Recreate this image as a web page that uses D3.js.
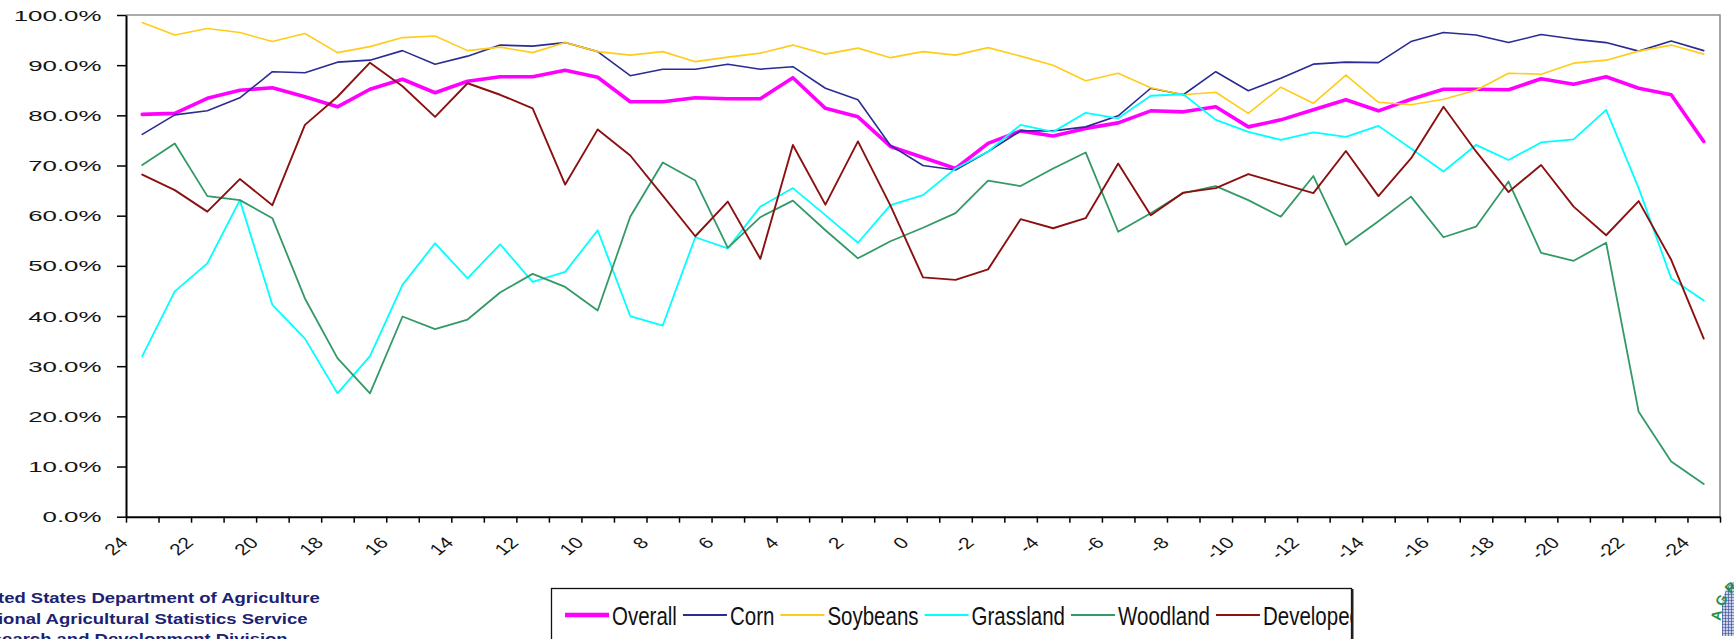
<!DOCTYPE html>
<html>
<head>
<meta charset="utf-8">
<script src="https://cdn.jsdelivr.net/npm/d3@7"></script>
<style>
  html, body { margin: 0; padding: 0; background: #fff; overflow: hidden; }
</style>
</head>
<body>
<svg id="chart" width="1734" height="639"></svg>
<script>
// Category axis: offset values from 24 down to -24
const categories = [24, 23, 22, 21, 20, 19, 18, 17, 16, 15, 14, 13, 12, 11, 10, 9, 8, 7, 6, 5, 4, 3, 2, 1, 0,
  -1, -2, -3, -4, -5, -6, -7, -8, -9, -10, -11, -12, -13, -14, -15, -16, -17, -18, -19, -20, -21, -22, -23, -24];
const labelledCategories = [24, 22, 20, 18, 16, 14, 12, 10, 8, 6, 4, 2, 0,
  -2, -4, -6, -8, -10, -12, -14, -16, -18, -20, -22, -24];
const yTicks = [0, 10, 20, 30, 40, 50, 60, 70, 80, 90, 100];

// Percentages per category (%)
const overall = [80.2, 80.4, 83.4, 85.0, 85.5, 83.7, 81.7, 85.2, 87.2, 84.5,
  86.8, 87.7, 87.7, 89.0, 87.6, 82.7, 82.7, 83.5, 83.3, 83.3,
  87.5, 81.4, 79.7, 73.8, 71.6, 69.4, 74.4, 76.9, 75.9, 77.4,
  78.5, 80.9, 80.7, 81.7, 77.7, 79.1, 81.1, 83.1, 80.9, 83.2,
  85.2, 85.2, 85.1, 87.3, 86.2, 87.7, 85.4, 84.1, 74.8];
const corn = [76.2, 80.1, 80.9, 83.5, 88.7, 88.5, 90.6, 91.0, 92.9, 90.2,
  91.8, 94.0, 93.8, 94.5, 92.7, 87.9, 89.2, 89.2, 90.2, 89.2,
  89.7, 85.4, 83.1, 74.0, 70.0, 69.1, 72.8, 76.9, 76.9, 77.7,
  79.9, 85.4, 84.1, 88.7, 84.9, 87.4, 90.2, 90.6, 90.5, 94.7,
  96.5, 96.0, 94.5, 96.1, 95.2, 94.5, 92.8, 94.8, 92.9];
const soybeans = [98.5, 96.0, 97.3, 96.5, 94.7, 96.3, 92.5, 93.7, 95.5, 95.8,
  92.9, 93.6, 92.5, 94.5, 92.7, 92.0, 92.7, 90.7, 91.6, 92.4,
  94.0, 92.2, 93.4, 91.5, 92.7, 92.0, 93.5, 91.8, 90.0, 86.9,
  88.4, 85.5, 84.1, 84.6, 80.4, 85.6, 82.4, 88.0, 82.6, 82.1,
  83.2, 85.0, 88.4, 88.2, 90.4, 91.0, 92.8, 94.0, 92.2];
const grassland = [32.0, 44.9, 50.5, 63.1, 42.2, 35.5, 24.6, 32.0, 46.2, 54.5,
  47.5, 54.3, 46.8, 48.8, 57.1, 40.0, 38.1, 55.7, 53.5, 61.8,
  65.5, 60.1, 54.6, 62.1, 64.1, 69.4, 72.8, 78.1, 76.7, 80.5,
  79.4, 83.9, 84.2, 79.1, 76.7, 75.1, 76.6, 75.7, 77.9, 73.4,
  68.8, 74.1, 71.1, 74.6, 75.2, 81.1, 65.5, 47.5, 43.1];
const woodland = [70.1, 74.4, 63.9, 63.1, 59.5, 43.5, 31.6, 24.6, 39.9, 37.4,
  39.3, 44.7, 48.4, 45.8, 41.1, 59.8, 70.6, 67.0, 53.6, 59.7,
  63.0, 57.1, 51.5, 54.9, 57.6, 60.5, 67.0, 65.9, 69.4, 72.6,
  56.8, 60.5, 64.5, 65.9, 63.1, 59.8, 67.9, 54.2, 58.9, 63.8,
  55.7, 57.8, 66.8, 52.6, 51.0, 54.6, 20.9, 11.0, 6.5];
const developed = [68.2, 65.1, 60.8, 67.3, 62.1, 78.1, 83.7, 90.5, 85.8, 79.7,
  86.4, 84.1, 81.4, 66.2, 77.2, 72.0, 64.0, 55.9, 62.8, 51.4,
  74.1, 62.2, 74.8, 62.0, 47.7, 47.2, 49.3, 59.3, 57.5, 59.5,
  70.4, 60.1, 64.6, 65.5, 68.3, 66.4, 64.5, 72.9, 63.9, 71.4,
  81.7, 72.8, 64.7, 70.1, 61.8, 56.1, 62.9, 51.2, 35.5];

const seriesNames = ["Overall", "Corn", "Soybeans", "Grassland", "Woodland", "Developed"];
const seriesValues = [overall, corn, soybeans, grassland, woodland, developed];
const seriesColors = ["#ff00ff", "#2b2b93", "#ffcc1a", "#00ffff", "#339966", "#8b1111"];
const seriesWidths = [3.6, 1.6, 1.6, 1.8, 1.8, 1.9];

const footerLines = [
  "United States Department of Agriculture",
  "National Agricultural Statistics Service",
  "Research and Development Division"
];
const logoLetters = ["A", "G", "R", "I"];

const FONT = "'Liberation Sans', Arial, Helvetica, sans-serif";
const svg = d3.select("#chart");
const defs = svg.append("defs");
const plot = { left: 126, right: 1720, top: 15, bottom: 516.7 };

const x = d3.scaleBand().domain(categories).range([plot.left, plot.right]);
const xc = c => x(c) + x.bandwidth() / 2;
const y = d3.scaleLinear().domain([0, 100]).range([plot.bottom, plot.top]);

// plot frame (top and right)
svg.append("path")
  .attr("d", `M${plot.left},${plot.top}H${plot.right}V${plot.bottom}`)
  .attr("fill", "none").attr("stroke", "#8f8f8f").attr("stroke-width", 1.6);

// y axis
const yAxis = svg.append("g")
  .attr("transform", `translate(${plot.left},0)`)
  .call(d3.axisLeft(y).tickValues(yTicks).tickSize(9).tickSizeOuter(0)
    .tickFormat(d => d.toFixed(1) + "%"));
yAxis.select(".domain").attr("stroke", "#000").attr("stroke-width", 2);
yAxis.selectAll(".tick line").attr("stroke", "#000").attr("stroke-width", 1.5);
yAxis.selectAll(".tick text")
  .attr("x", 0).attr("dy", "0.36em")
  .attr("transform", "translate(-24.5,0) scale(1.85,1)")
  .style("font-family", FONT).style("font-size", "14px").attr("fill", "#151515");

// x axis: tick marks on category boundaries
const xb = d3.scaleLinear().domain([0, categories.length]).range([plot.left, plot.right]);
const xAxis = svg.append("g")
  .attr("transform", `translate(0,${plot.bottom})`)
  .call(d3.axisBottom(xb).tickValues(d3.range(categories.length + 1))
    .tickSize(6).tickSizeOuter(0).tickFormat(""));
xAxis.select(".domain").attr("stroke", "#000").attr("stroke-width", 2);
xAxis.selectAll(".tick line").attr("stroke", "#000").attr("stroke-width", 1.5);

// x axis labels, rotated and widened
const xLab = svg.append("g")
  .attr("transform", `translate(0,${plot.bottom})`)
  .call(d3.axisBottom(x).tickValues(labelledCategories).tickSize(0).tickFormat(d => String(d)));
xLab.select(".domain").remove();
xLab.selectAll(".tick text")
  .attr("x", 0).attr("y", 0).attr("dy", 0)
  .attr("text-anchor", "end")
  .attr("transform", "translate(-13,27) scale(1.3,1) rotate(-45)")
  .style("font-family", FONT).style("font-size", "16px").attr("fill", "#151515");

// series lines
const line = d3.line()
  .x((d, i) => xc(categories[i]))
  .y(d => y(d));
svg.append("g").selectAll("path")
  .data(seriesValues)
  .join("path")
  .attr("d", d => line(d))
  .attr("fill", "none")
  .attr("stroke", (d, i) => seriesColors[i])
  .attr("stroke-width", (d, i) => seriesWidths[i])
  .attr("stroke-linejoin", "round")
  .attr("stroke-linecap", "round");

// legend
defs.append("clipPath").attr("id", "legclip")
  .append("rect").attr("x", 552).attr("y", 589).attr("width", 799.5).attr("height", 60);
const legend = svg.append("g");
legend.append("rect")
  .attr("x", 551.5).attr("y", 588.5).attr("width", 800).attr("height", 90)
  .attr("fill", "#fff").attr("stroke", "#111").attr("stroke-width", 1.3);
legend.append("line")
  .attr("x1", 1352.5).attr("x2", 1352.5).attr("y1", 589).attr("y2", 639)
  .attr("stroke", "#222").attr("stroke-width", 2);
const legendItems = legend.append("g").attr("clip-path", "url(#legclip)");
const legendScale = 0.82;
let lx = 565;
const ly = 615;
seriesNames.forEach((name, i) => {
  legendItems.append("line")
    .attr("x1", lx).attr("x2", lx + 44).attr("y1", ly).attr("y2", ly)
    .attr("stroke", seriesColors[i]).attr("stroke-width", i === 0 ? 4.5 : 2.2);
  const tx = lx + 47;
  const t = legendItems.append("text")
    .attr("transform", `translate(${tx},${ly + 10}) scale(${legendScale},1)`)
    .style("font-family", FONT).style("font-size", "25px").attr("fill", "#111")
    .text(name);
  const w = t.node().getComputedTextLength() * legendScale;
  lx = tx + w + 6;
});

// footer credit lines
const foot = svg.append("g")
  .style("font-family", FONT).style("font-size", "15px").style("font-weight", "bold")
  .attr("fill", "#1c2272");
const first = foot.append("text").attr("x", 0).attr("y", 0).text(footerLines[0]);
const wFull = first.node().getComputedTextLength();
const wPre = first.node().getSubStringLength(0, 3);
const fs = 322 / (wFull - wPre);
const fx = -2 - fs * wPre;
first.remove();
const baselines = [602.5, 624, 644];
footerLines.forEach((txt, i) => {
  foot.append("text")
    .attr("transform", `translate(${fx},${baselines[i]}) scale(${fs},1)`)
    .text(txt);
});

// partial agency logo at the right edge
const pat = defs.append("pattern").attr("id", "hatch")
  .attr("width", 3).attr("height", 3).attr("patternUnits", "userSpaceOnUse");
pat.append("rect").attr("width", 3).attr("height", 3).attr("fill", "#c9d0e8");
pat.append("path").attr("d", "M0,0H3M0,0V3").attr("stroke", "#2e4391").attr("stroke-width", 1.2);
svg.append("path")
  .attr("d", "M1722,636 L1722,606 Q1724,590 1730,584 L1734,582 L1734,636 Z")
  .attr("fill", "url(#hatch)");
const arcC = [1764, 622], arcR = 48;
const angles = [188, 207, 226, 243];
logoLetters.forEach((ch, i) => {
  const a = angles[i] * Math.PI / 180;
  const px = arcC[0] + arcR * Math.cos(a), py = arcC[1] + arcR * Math.sin(a);
  svg.append("text")
    .attr("transform", `translate(${px},${py}) rotate(${angles[i] - 270})`)
    .attr("text-anchor", "middle").attr("dy", "0.35em")
    .style("font-family", FONT).style("font-size", "14px").style("font-weight", "bold")
    .attr("fill", "#1e9148").text(ch);
});
</script>
</body>
</html>
